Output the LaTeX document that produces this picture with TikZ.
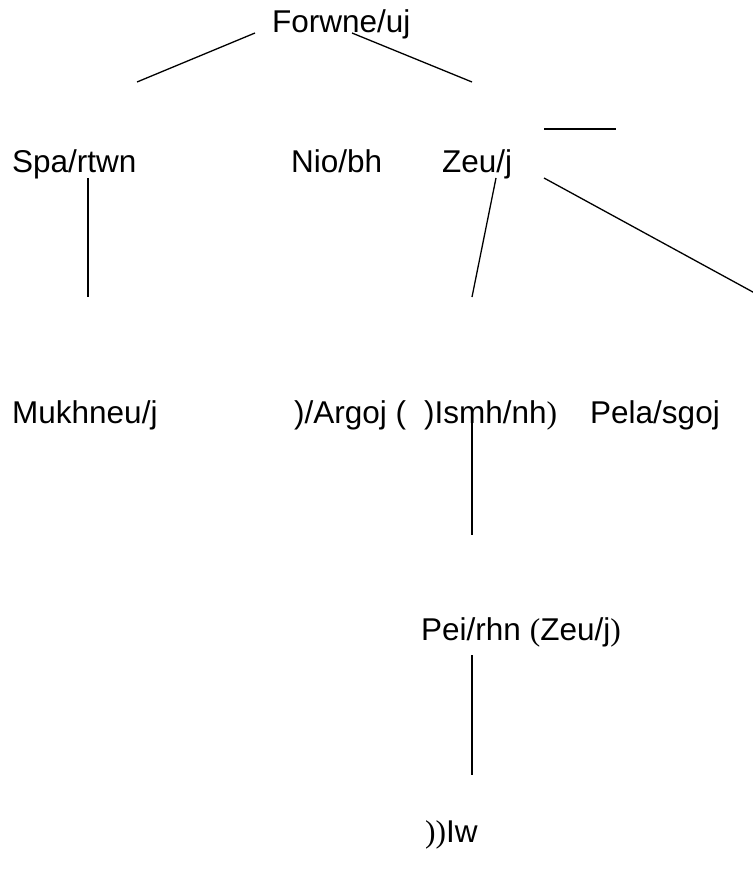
\documentclass[tikz,border=0pt]{standalone}
\usepackage{fontspec}
\setmainfont{Liberation Sans}
\newfontfamily\serifp{Liberation Serif}
\begin{document}
\begin{tikzpicture}[x=1pt,y=-1pt,
  lbl/.style={anchor=base west,inner sep=0pt,font=\fontsize{31.5}{36}\selectfont},
  conn/.style={draw=black,line width=1.3pt}]
\useasboundingbox (0,0) rectangle (752,872);
% text nodes
\node[lbl] (forwne) at (272,33) {Forwne/uj};
\node[lbl] (spartwn) at (12,172) {Spa/rtwn};
\node[lbl] (niobh) at (291,172) {Nio/bh};
\node[lbl] (zeuj) at (442,172) {Zeu/j};
\node[lbl] (mukh) at (12,423) {Mukhneu/j};
\node[lbl] (argoj) at (294,423) {)/Argoj (};
\node[lbl] (ismh) at (424,423) {)Ismh/nh{\serifp)}};
\node[lbl] (pela) at (590,423) {Pela/sgoj};
\node[lbl] (peirhn) at (421,640) {Pei/rhn {\serifp(}Zeu/j{\serifp)}};
\node[lbl] (iw) at (425,842) {{\serifp))}Iw};
% connector end points
\coordinate (fA) at (255,33);
\coordinate (fB) at (137,82);
\coordinate (fC) at (352,33);
\coordinate (fD) at (472,82);
\coordinate (hA) at (544,129);
\coordinate (hB) at (616,129);
\coordinate (sA) at (88,178);
\coordinate (sB) at (88,297);
\coordinate (zA) at (496,178);
\coordinate (zB) at (472,297);
\coordinate (zC) at (544,178);
\coordinate (zD) at (762,297);
\coordinate (iA) at (472,413);
\coordinate (iB) at (472,535);
\coordinate (pA) at (472,655);
\coordinate (pB) at (472,775);
% connectors
\draw[conn] (fA) -- (fB);
\draw[conn] (fC) -- (fD);
\draw[conn] (hA) -- (hB);
\draw[conn] (sA) -- (sB);
\draw[conn] (zA) -- (zB);
\draw[conn] (zC) -- (zD);
\draw[conn] (iA) -- (iB);
\draw[conn] (pA) -- (pB);
\end{tikzpicture}
\end{document}
